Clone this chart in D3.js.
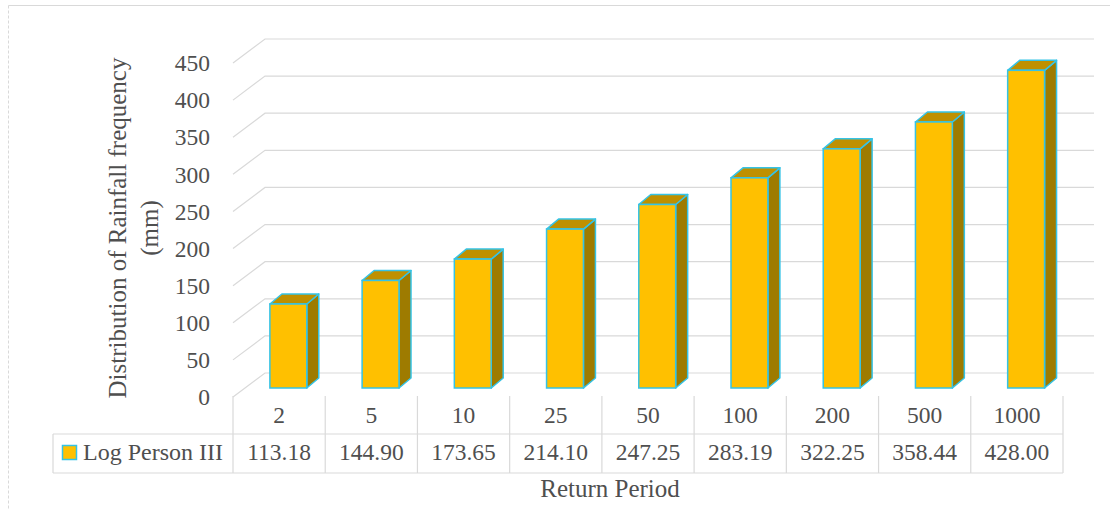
<!DOCTYPE html>
<html>
<head>
<meta charset="utf-8">
<script src="https://cdn.jsdelivr.net/npm/d3@7"></script>
<style>
  html, body { margin: 0; padding: 0; background: #fff; }
  svg { display: block; }
  text { font-family: "Liberation Serif", "Times New Roman", serif; fill: #4f4f4f; }
</style>
</head>
<body>
<svg id="chart" width="1110" height="509"></svg>
<script>
// Return periods (years) and Log Pearson III rainfall estimates (mm)
const periods = ["2", "5", "10", "25", "50", "100", "200", "500", "1000"];
const logPersonIII = [113.18, 144.90, 173.65, 214.10, 247.25, 283.19, 322.25, 358.44, 428.00];
const valueLabels = ["113.18", "144.90", "173.65", "214.10", "247.25", "283.19", "322.25", "358.44", "428.00"];
const yTicks = [0, 50, 100, 150, 200, 250, 300, 350, 400, 450];
const seriesName = "Log Person III";

const svg = d3.select("#chart");

// pseudo-3D geometry
const wallDX = 32, wallDY = -24;      // floor depth (front edge -> back wall)
const barDX = 12, barDY = -10;        // bar depth
const tableLeft = 233, tableRight = 1063;
const gridRight = 1094;

const x = d3.scaleBand().domain(periods).range([tableLeft, tableRight]).padding(0);
const yBack = d3.scaleLinear().domain([0, 450]).range([373, 39]);   // back wall
const yFront = d3.scaleLinear().domain([0, 450]).range([388, 54]);  // bar front faces

// outer chart frame
svg.append("line").attr("x1", 8.5).attr("x2", 1110).attr("y1", 5.5).attr("y2", 5.5)
  .attr("stroke", "#d9d9d9").attr("stroke-width", 1);
svg.append("line").attr("x1", 8.5).attr("x2", 8.5).attr("y1", 5.5).attr("y2", 509)
  .attr("stroke", "#d9d9d9").attr("stroke-width", 1).attr("stroke-dasharray", "3,2");

// gridlines: floor diagonal + back wall
const grid = svg.append("g");
yTicks.forEach(v => {
  const yb = yBack(v);
  grid.append("path")
    .attr("d", `M${tableLeft},${yb - wallDY} L${tableLeft + wallDX},${yb} L${gridRight},${yb}`)
    .attr("fill", "none").attr("stroke", "#d9d9d9").attr("stroke-width", 1.2);
});

// y tick labels
svg.append("g").selectAll("text").data(yTicks).join("text")
  .attr("x", 210).attr("y", d => yBack(d) - wallDY)
  .attr("dy", "0.35em").attr("text-anchor", "end")
  .style("font-size", "23.5px")
  .text(d => d);

// axis title
const title = svg.append("text")
  .attr("transform", "translate(126,228) rotate(-90)")
  .attr("text-anchor", "middle").style("font-size", "25px");
title.append("tspan").attr("x", 0).attr("y", 0).text("Distribution of Rainfall frequency");
title.append("tspan").attr("x", 0).attr("y", 32).text("(mm)");

// bars
const bw = x.bandwidth() * 0.4;
const bars = svg.append("g").selectAll("g").data(periods.map((p, i) => ({ p, v: logPersonIII[i] }))).join("g");
const outline = "#35c3e6";
bars.each(function(d) {
  const g = d3.select(this);
  const x0 = x(d.p) + x.bandwidth() * 0.4, x1 = x0 + bw;
  const yt = yFront(d.v), yb = yFront(0);
  // side face
  g.append("path")
    .attr("d", `M${x1},${yt} L${x1 + barDX},${yt + barDY} L${x1 + barDX},${yb + barDY} L${x1},${yb} Z`)
    .attr("fill", "#9e7b00").attr("stroke", outline).attr("stroke-width", 1.5).attr("stroke-linejoin", "round");
  // top face
  g.append("path")
    .attr("d", `M${x0},${yt} L${x0 + barDX},${yt + barDY} L${x1 + barDX},${yt + barDY} L${x1},${yt} Z`)
    .attr("fill", "#bf9000").attr("stroke", outline).attr("stroke-width", 1.5).attr("stroke-linejoin", "round");
  // front face
  g.append("rect")
    .attr("x", x0).attr("y", yt).attr("width", bw).attr("height", yb - yt)
    .attr("fill", "#ffc000").attr("stroke", outline).attr("stroke-width", 1.5);
});

// data table
const rowTop = 396, rowMid = 434, rowBot = 473, legendLeft = 53;
const table = svg.append("g").attr("stroke", "#d9d9d9").attr("stroke-width", 1.2);
const cols = periods.map(p => x(p)).concat([tableRight]);
table.selectAll("line.v").data(cols).join("line")
  .attr("x1", d => d).attr("x2", d => d).attr("y1", rowTop).attr("y2", rowBot);
table.append("line").attr("x1", legendLeft).attr("x2", tableRight).attr("y1", rowMid).attr("y2", rowMid);
table.append("line").attr("x1", legendLeft).attr("x2", tableRight).attr("y1", rowBot).attr("y2", rowBot);
table.append("line").attr("x1", legendLeft).attr("x2", legendLeft).attr("y1", rowMid).attr("y2", rowBot);

svg.append("g").selectAll("text").data(periods).join("text")
  .attr("x", d => x(d) + x.bandwidth() / 2).attr("y", 415).attr("dy", "0.35em")
  .attr("text-anchor", "middle").style("font-size", "23.5px").text(d => d);

svg.append("g").selectAll("text").data(valueLabels).join("text")
  .attr("x", (d, i) => x(periods[i]) + x.bandwidth() / 2).attr("y", 452).attr("dy", "0.35em")
  .attr("text-anchor", "middle").style("font-size", "23.5px").text(d => d);

// legend key in table
svg.append("rect").attr("x", 62.5).attr("y", 445.5).attr("width", 14).attr("height", 14)
  .attr("fill", "#ffc000").attr("stroke", outline).attr("stroke-width", 1.5);
svg.append("text").attr("x", 83).attr("y", 452).attr("dy", "0.35em")
  .style("font-size", "24px").text(seriesName);

// x axis title
svg.append("text").attr("x", 610).attr("y", 488).attr("dy", "0.35em")
  .attr("text-anchor", "middle").style("font-size", "25px").text("Return Period");
</script>
</body>
</html>
